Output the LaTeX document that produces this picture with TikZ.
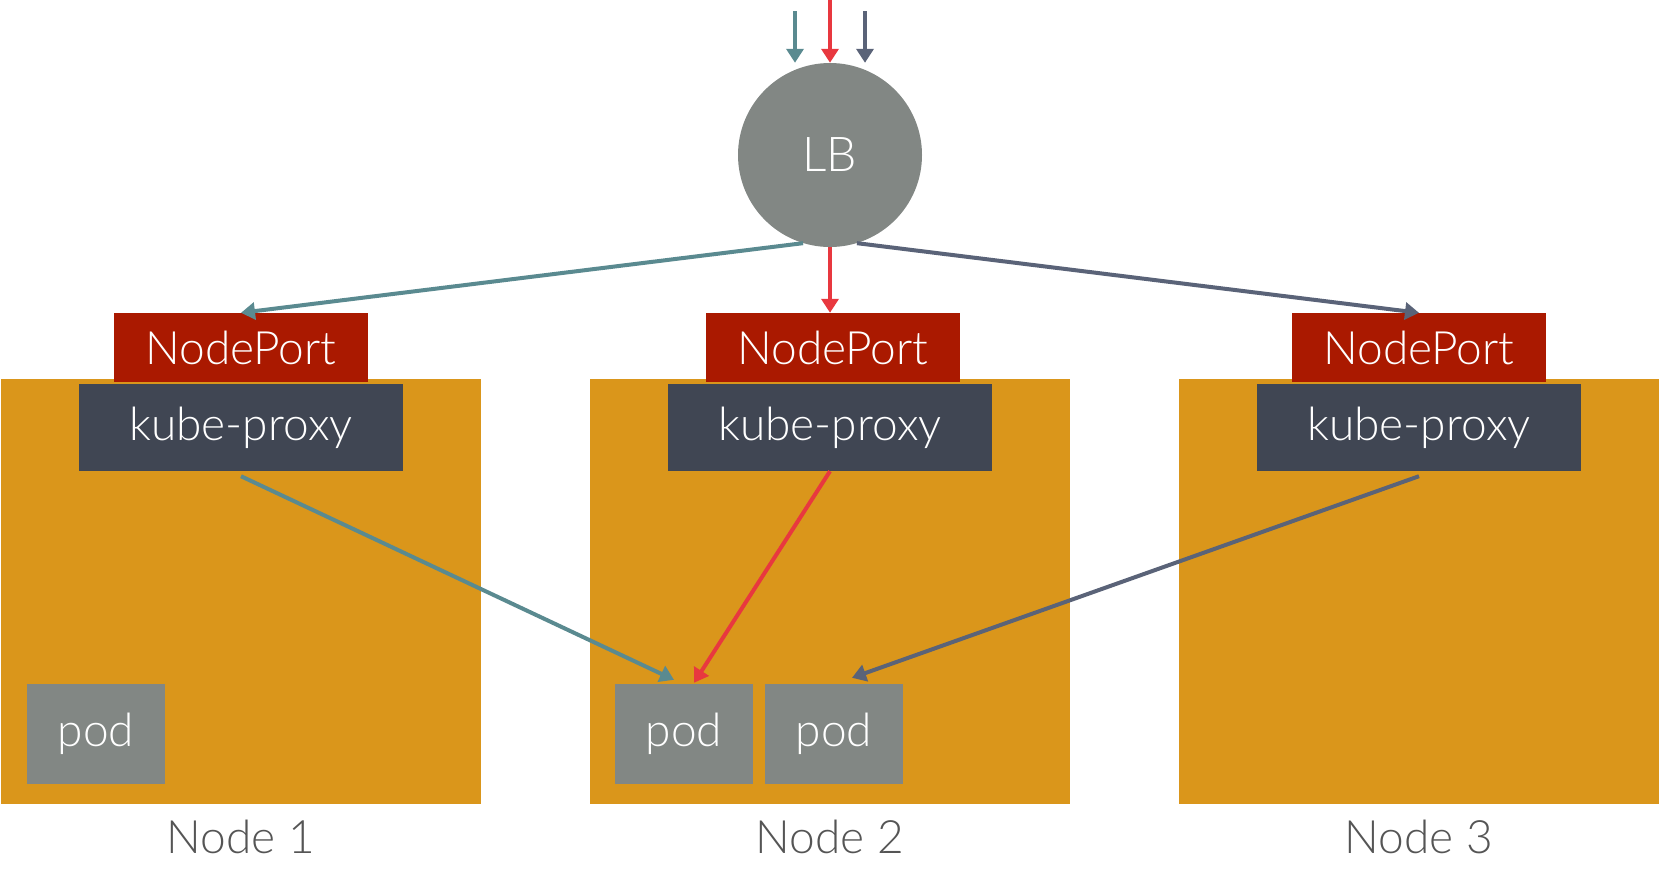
\documentclass[tikz,border=0pt]{standalone}
\usepackage{fontspec}
\setmainfont{Lato}[UprightFont=* Light]
\usetikzlibrary{arrows.meta,calc}
\definecolor{nodeorange}{RGB}{218,150,27}
\definecolor{npred}{RGB}{170,25,0}
\definecolor{kpdark}{RGB}{64,70,83}
\definecolor{podgray}{RGB}{130,135,132}
\definecolor{tealc}{RGB}{90,138,144}
\definecolor{redc}{RGB}{232,56,63}
\definecolor{slatec}{RGB}{90,99,120}
\definecolor{labelgray}{RGB}{85,85,85}
\begin{document}
\begin{tikzpicture}[x=1pt,y=-1pt,
  hostbox/.style={rectangle,fill=nodeorange,minimum width=480pt,minimum height=425pt,inner sep=0pt},
  npbox/.style={rectangle,fill=npred,text=white,minimum width=254pt,minimum height=69pt,inner sep=0pt,font=\fontsize{46}{50}\selectfont},
  kpbox/.style={rectangle,fill=kpdark,text=white,minimum width=324pt,minimum height=87pt,inner sep=0pt,font=\fontsize{46}{50}\selectfont},
  podbox/.style={rectangle,fill=podgray,text=white,minimum width=138pt,minimum height=100pt,inner sep=0pt,font=\fontsize{46}{50}\selectfont},
  hostlabel/.style={text=labelgray,inner sep=0pt,anchor=base,font=\fontsize{46}{50}\selectfont},
  flow/.style={line width=4pt,-{Triangle[length=14pt,width=17pt]}}
]
\useasboundingbox (0,0) rectangle (1660,873);
% host boxes
\node[hostbox] (h1) at (241,591.5) {};
\node[hostbox] (h2) at (830,591.5) {};
\node[hostbox] (h3) at (1419,591.5) {};
% NodePorts
\node[npbox] (np1) at (241,347.5) {NodePort};
\node[npbox] (np2) at (833,347.5) {NodePort};
\node[npbox] (np3) at (1419,347.5) {NodePort};
% kube-proxy
\node[kpbox] (kp1) at (241,427.5) {kube-proxy};
\node[kpbox] (kp2) at (830,427.5) {kube-proxy};
\node[kpbox] (kp3) at (1419,427.5) {kube-proxy};
% pods
\node[podbox] (pod1) at (96,734) {pod};
\node[podbox] (pod2) at (684,734) {pod};
\node[podbox] (pod3) at (834,734) {pod};
% labels
\node[hostlabel] (l1) at (241,853) {Node 1};
\node[hostlabel] (l2) at (830,853) {Node 2};
\node[hostlabel] (l3) at (1419,853) {Node 3};
% LB
\node[circle,fill=podgray,text=white,minimum size=184pt,inner sep=0pt,font=\fontsize{48}{52}\selectfont] (lb) at (830,155) {LB};
% incoming
\coordinate (inT) at (795,11);
\coordinate (inR) at (830,0);
\coordinate (inS) at (865,11);
\draw[flow,tealc] (inT) -- (lb.north -| inT);
\draw[flow,redc] (inR) -- (lb.north);
\draw[flow,slatec] (inS) -- (lb.north -| inS);
% LB to NodePorts
\draw[flow,tealc] (lb.-107) -- (np1.north);
\draw[flow,redc] (lb.south) -- (np2.north -| lb.south);
\draw[flow,slatec] (lb.-73) -- (np3.north);
% kube-proxy to pods
\draw[flow,tealc] ($(kp1.south)+(0,5)$) -- ($(pod2.north)+(-10,-4)$);
\draw[flow,redc] (kp2.south) -- ($(pod2.north)+(10,-1)$);
\draw[flow,slatec] ($(kp3.south)+(0,5)$) -- ($(pod3.north)+(18,-6)$);
\end{tikzpicture}
\end{document}
